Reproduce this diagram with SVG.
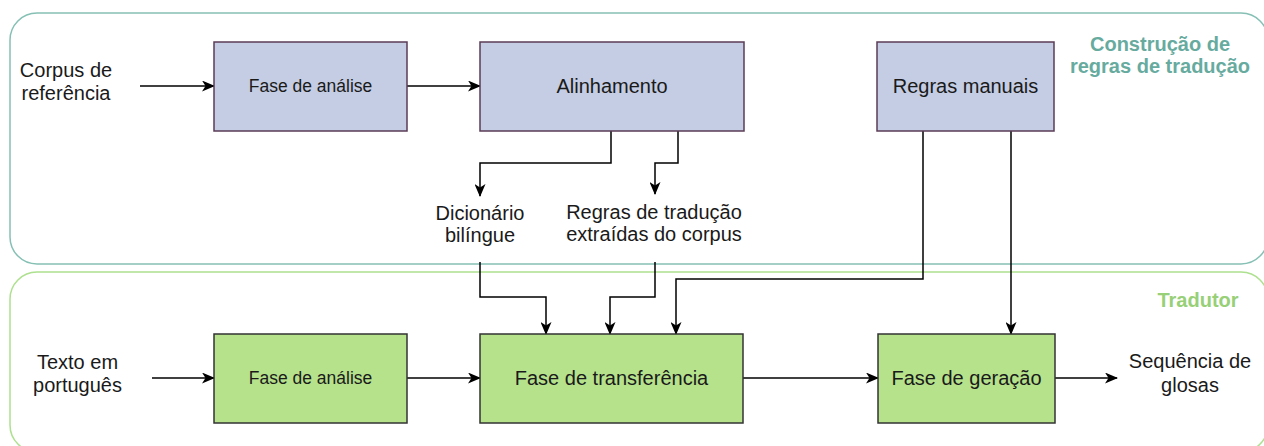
<svg xmlns="http://www.w3.org/2000/svg" width="1264" height="446" viewBox="0 0 1264 446">
<style>
  text { font-family: "Liberation Sans", Arial, sans-serif; fill: #1a1a1a; text-anchor: middle; }
  .t20 { font-size: 20px; }
  .t17 { font-size: 17.5px; }
  .title { font-size: 20px; font-weight: bold; }
  .blue { fill: #c4cde3; stroke: #5b3b57; stroke-width: 1.5; }
  .green { fill: #b6e28c; stroke: #333333; stroke-width: 1.5; }
  .edge { fill: none; stroke: #000000; stroke-width: 1.5; marker-end: url(#arrow); }
</style>
<defs>
  <marker id="arrow" viewBox="0 0 13 11" refX="12" refY="5.5" markerWidth="13" markerHeight="11" markerUnits="userSpaceOnUse" orient="auto">
    <path d="M0,0 L13,5.5 L0,11 L3.5,5.5 Z" fill="#000000"/>
  </marker>
</defs>
<rect width="1264" height="446" fill="#ffffff"/>

<g id="container-construcao">
  <rect x="10" y="13" width="1258" height="251" rx="27" ry="27" fill="none" stroke="#86c0b5" stroke-width="1.5"/>
  <text class="title" x="1160" y="51" style="fill:#67ab9f">Construção de</text>
  <text class="title" x="1160" y="73" style="fill:#67ab9f">regras de tradução</text>
</g>
<g id="container-tradutor">
  <rect x="10" y="272" width="1258" height="180" rx="27" ry="27" fill="none" stroke="#ade08f" stroke-width="1.5"/>
  <text class="title" x="1198" y="307" style="fill:#97d077">Tradutor</text>
</g>

<g id="connectors">
  <path class="edge" d="M140,86 H214"/>
  <path class="edge" d="M407,86 H480"/>
  <path class="edge" d="M611,131 V163 H480 V196"/>
  <path class="edge" d="M678,131 V163 H655 V194"/>
  <path class="edge" d="M480,262 V297 H546 V334"/>
  <path class="edge" d="M655,262 V297 H610 V334"/>
  <path class="edge" d="M923,131 V279 H676 V334"/>
  <path class="edge" d="M1011,131 V334"/>
  <path class="edge" d="M152,378 H214"/>
  <path class="edge" d="M407,378 H480"/>
  <path class="edge" d="M743,378 H878"/>
  <path class="edge" d="M1055,378 H1117"/>
</g>

<g id="corpus-referencia">
  <text class="t20" x="66" y="77">Corpus de</text>
  <text class="t20" x="66" y="100">referência</text>
</g>
<g id="fase-analise-1">
  <rect class="blue" x="214" y="42" width="193" height="89"/>
  <text class="t17" x="310.5" y="92">Fase de análise</text>
</g>
<g id="alinhamento">
  <rect class="blue" x="480" y="42" width="264" height="89"/>
  <text class="t20" x="612" y="93">Alinhamento</text>
</g>
<g id="regras-manuais">
  <rect class="blue" x="877" y="42" width="177" height="89"/>
  <text class="t20" x="965.5" y="92.5">Regras manuais</text>
</g>
<g id="dicionario">
  <text class="t20" x="480" y="220">Dicionário</text>
  <text class="t20" x="480" y="242">bilíngue</text>
</g>
<g id="regras-extraidas">
  <text class="t20" x="654" y="219">Regras de tradução</text>
  <text class="t20" x="654" y="241">extraídas do corpus</text>
</g>
<g id="texto-portugues">
  <text class="t20" x="77.5" y="369">Texto em</text>
  <text class="t20" x="77.5" y="392">português</text>
</g>
<g id="fase-analise-2">
  <rect class="green" x="214" y="334" width="193" height="89"/>
  <text class="t17" x="310.5" y="383.5">Fase de análise</text>
</g>
<g id="fase-transferencia">
  <rect class="green" x="480" y="334" width="263" height="89"/>
  <text class="t20" x="611.5" y="384.5">Fase de transferência</text>
</g>
<g id="fase-geracao">
  <rect class="green" x="878" y="334" width="177" height="89"/>
  <text class="t20" x="966.5" y="384.5">Fase de geração</text>
</g>
<g id="sequencia-glosas">
  <text class="t20" x="1190" y="368">Sequência de</text>
  <text class="t20" x="1190" y="392">glosas</text>
</g>
</svg>
